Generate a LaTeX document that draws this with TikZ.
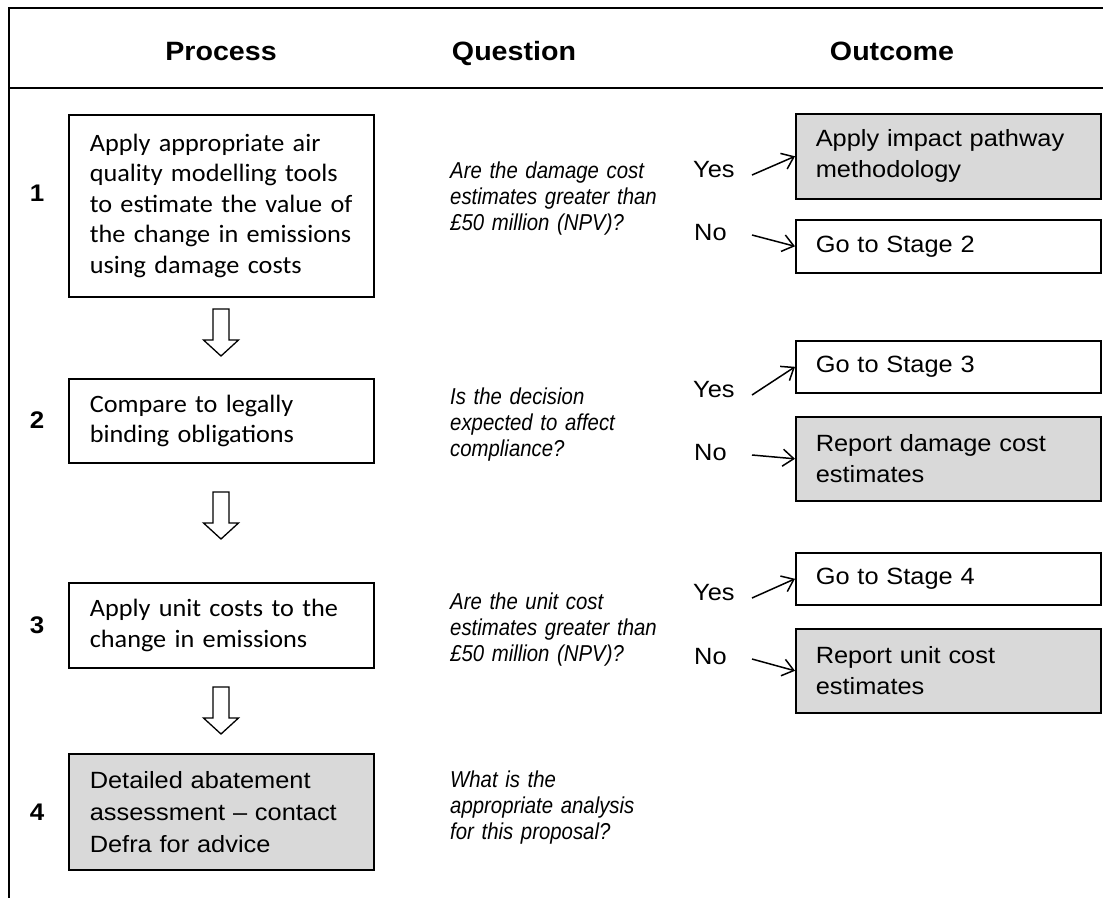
\documentclass[tikz,border=0pt]{standalone}
\usepackage{fontspec}
\setmainfont{Liberation Sans}[FakeStretch=1.08]
\newfontfamily\calib{Carlito}[FakeStretch=1.05]
\newfontfamily\qfont{Liberation Sans}[FakeStretch=0.885]
\usetikzlibrary{arrows.meta}
\definecolor{boxgray}{HTML}{D9D9D9}
\tikzset{
  frameline/.style={line width=2pt},
  pbox/.style={draw, line width=1.6pt, anchor=north west, inner xsep=21pt, inner ysep=0pt,
    text width=263pt, align=left, font=\calib\fontsize{25}{30.5}\selectfont},
  abox/.style={draw, line width=1.6pt, anchor=north west, inner xsep=21pt, inner ysep=0pt,
    text width=263pt, align=left, fill=boxgray, font=\fontsize{23.5}{32}\selectfont},
  obox/.style={draw, line width=1.6pt, anchor=north west, inner xsep=20pt, inner ysep=0pt,
    text width=265pt, align=left, font=\fontsize{23.5}{31}\selectfont},
  grayfill/.style={fill=boxgray},
  header/.style={anchor=base, font=\bfseries\fontsize{26.5}{30}\selectfont, inner sep=0pt},
  stepnum/.style={font=\bfseries\fontsize{24}{28}\selectfont, inner sep=0pt},
  question/.style={anchor=base west, inner sep=0pt, text width=235pt, align=left,
    font=\qfont\itshape\fontsize{23}{26}\selectfont},
  answer/.style={anchor=west, inner sep=0pt, font=\fontsize{23.5}{28}\selectfont},
  conn/.style={line width=1.5pt, -{Straight Barb[length=11pt,width=17pt,line width=1.5pt]}},
  darrow/.pic={\draw[line width=1.3pt, line join=miter, fill=white]
     (-8,0) -- (8,0) -- (8,31) -- (17.5,31) -- (0,47) -- (-17.5,31) -- (-8,31) -- cycle;}
}
\begin{document}
\begin{tikzpicture}[x=1pt,y=-1pt]
\useasboundingbox (0,0) rectangle (1103,898);
% frame
\draw[frameline] (8,8) -- (1103,8);
\draw[frameline] (8,88) -- (1103,88);
\draw[frameline] (9,8) -- (9,898);
% headers
\node[header] (hp) at (221,60) {Process};
\node[header] (hq) at (514,60) {Question};
\node[header] (ho) at (892,60) {Outcome};
% step numbers
\node[stepnum] (n1) at (37,193) {1};
\node[stepnum] (n2) at (37,420) {2};
\node[stepnum] (n3) at (37,625) {3};
\node[stepnum] (n4) at (37,812) {4};
% process boxes
\node[pbox, minimum height=182pt] (p1) at (68,114) {Apply appropriate air\\quality modelling tools\\to estimate the value of\\the change in emissions\\using damage costs};
\node[pbox, minimum height=84pt] (p2) at (68,378) {Compare to legally\\binding obligations};
\node[pbox, minimum height=85pt] (p3) at (68,582) {Apply unit costs to the\\change in emissions};
\node[abox, minimum height=116pt] (p4) at (68,753) {Detailed abatement\\assessment -- contact\\Defra for advice};
% block arrows
\pic at (221,309) {darrow};
\pic at (221,492) {darrow};
\pic at (221,687) {darrow};
% questions
\node[question] (q1) at (450,178) {Are the damage cost\\estimates greater than\\\pounds50 million (NPV)?};
\node[question] (q2) at (450,404) {Is the decision\\expected to affect\\compliance?};
\node[question] (q3) at (450,609) {Are the unit cost\\estimates greater than\\\pounds50 million (NPV)?};
\node[question] (q4) at (450,787) {What is the\\appropriate analysis\\for this proposal?};
% outcomes
\node[obox, grayfill, minimum height=85pt] (o1y) at (795,113) {Apply impact pathway\\methodology};
\node[obox, minimum height=53pt] (o1n) at (795,219) {Go to Stage 2};
\node[obox, minimum height=52pt] (o2y) at (795,340) {Go to Stage 3};
\node[obox, grayfill, minimum height=84pt] (o2n) at (795,416) {Report damage cost\\estimates};
\node[obox, minimum height=52pt] (o3y) at (795,552) {Go to Stage 4};
\node[obox, grayfill, minimum height=84pt] (o3n) at (795,628) {Report unit cost\\estimates};
% yes/no labels
\node[answer] (y1) at (693,170) {Yes};
\node[answer] (x1) at (694,233) {No};
\node[answer] (y2) at (693,390) {Yes};
\node[answer] (x2) at (694,453) {No};
\node[answer] (y3) at (693,593) {Yes};
\node[answer] (x3) at (694,657) {No};
% connectors
\coordinate (sy1) at (752,175);
\coordinate (sx1) at (752,235);
\coordinate (sy2) at (752,395);
\coordinate (sx2) at (752,455);
\coordinate (sy3) at (752,598);
\coordinate (sx3) at (752,659);
\draw[conn] (sy1) -- (o1y.west);
\draw[conn] (sx1) -- (o1n.west);
\draw[conn] (sy2) -- (o2y.west);
\draw[conn] (sx2) -- (o2n.west);
\draw[conn] (sy3) -- (o3y.west);
\draw[conn] (sx3) -- (o3n.west);
\end{tikzpicture}
\end{document}
